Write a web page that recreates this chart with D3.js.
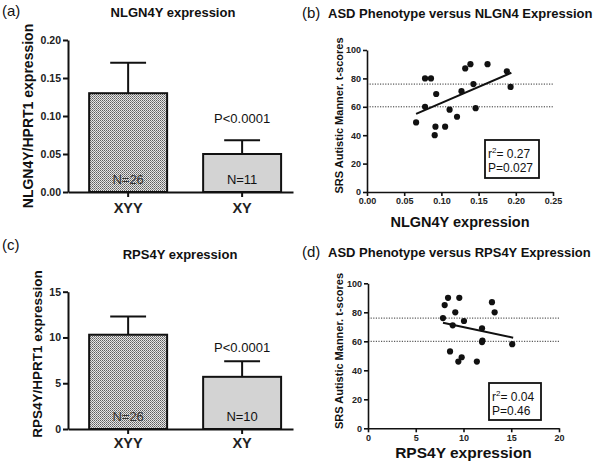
<!DOCTYPE html>
<html>
<head>
<meta charset="utf-8">
<script src="https://cdn.jsdelivr.net/npm/d3@7"></script>
<style>
  body { margin: 0; background: #fff; }
  svg { font-family: "Liberation Sans", Arial, Helvetica, sans-serif; }
</style>
</head>
<body>
<script>
// ---- data ----
const groups = ['XYY', 'XY'];

const nlgnMean = [0.13, 0.05];
const nlgnErr = [0.04, 0.018];
const nlgnN = ['N=26', 'N=11'];

const rpsMean = [10.3, 5.7];
const rpsErr = [2.0, 1.7];
const rpsN = ['N=26', 'N=10'];

const nlgnX = [0.066, 0.078, 0.086, 0.093, 0.078, 0.092, 0.105, 0.091, 0.111, 0.121, 0.127, 0.132, 0.139, 0.143, 0.146, 0.162, 0.188, 0.193];
const nlgnSrs = [49, 80, 80, 69, 60, 46, 46, 40, 58, 53, 71, 87, 90, 76, 59, 90, 85, 74];
const nlgnFit = [[0.066, 55], [0.194, 84]];

const rpsX = [7.85, 8.03, 8.38, 9.56, 9.14, 8.87, 10.05, 8.59, 9.81, 9.46, 11.4, 11.94, 11.94, 11.98, 12.98, 13.26, 15.1];
const rpsSrs = [76, 85, 90, 90, 80, 71, 74, 53, 49, 46, 46, 69, 59.5, 60.5, 87, 80, 58];
const rpsFit = [[7.85, 72.8], [15.2, 62.5]];

const cutoffs = [60, 76];

const W = 600, H = 465;
const svg = d3.select('body').append('svg')
  .attr('width', W)
  .attr('height', H);

const defs = svg.append('defs');
const pat = defs.append('pattern')
  .attr('id', 'dots')
  .attr('width', 2)
  .attr('height', 2)
  .attr('patternUnits', 'userSpaceOnUse');
pat.append('rect').attr('width', 2).attr('height', 2).attr('fill', '#e6e6e6');
pat.append('rect').attr('width', 1).attr('height', 1).attr('fill', '#5e5e5e');
pat.append('rect').attr('x', 1).attr('y', 1).attr('width', 1).attr('height', 1).attr('fill', '#858585');

function styleAxis(g, sw, fs) {
  g.select('.domain').attr('stroke', '#111').attr('stroke-width', sw);
  g.selectAll('.tick line').attr('stroke', '#111').attr('stroke-width', sw);
  g.selectAll('.tick text')
    .attr('fill', '#222')
    .style('font-size', fs + 'px')
    .style('font-weight', 'bold');
  g.attr('font-size', null).attr('font-family', null);
}

function label(x, y, txt, size, weight, anchor) {
  return svg.append('text')
    .attr('x', x)
    .attr('y', y)
    .attr('text-anchor', anchor || 'start')
    .style('font-size', size + 'px')
    .style('font-weight', weight || 'normal')
    .attr('fill', '#111')
    .text(txt);
}

function barPanel(o) {
  const x = d3.scaleBand().domain(groups).range([68, 293])
    .paddingInner(0.316).paddingOuter(0.145).align(0.64);
  const y = d3.scaleLinear().domain(o.yDomain).range([o.bottom, o.top]);

  label(2, o.letterY, o.letter, 15);
  label(o.titleX, o.titleY, o.title, 13, 'bold', 'middle');

  svg.append('text')
    .attr('transform', `translate(${o.ylabX},${o.ylabY}) rotate(-90)`)
    .attr('text-anchor', 'middle')
    .style('font-size', o.ylabSize + 'px')
    .style('font-weight', 'bold')
    .attr('fill', '#111')
    .text(o.ylab);

  const bars = svg.append('g');
  groups.forEach((gname, i) => {
    const cx = x(gname) + x.bandwidth() / 2;
    const capW = x.bandwidth() * 0.46;
    bars.append('line')
      .attr('x1', cx).attr('x2', cx)
      .attr('y1', y(o.means[i])).attr('y2', y(o.means[i] + o.errs[i]))
      .attr('stroke', '#111').attr('stroke-width', 2);
    bars.append('line')
      .attr('x1', cx - capW / 2).attr('x2', cx + capW / 2)
      .attr('y1', y(o.means[i] + o.errs[i])).attr('y2', y(o.means[i] + o.errs[i]))
      .attr('stroke', '#111').attr('stroke-width', 2);
    bars.append('rect')
      .attr('x', x(gname))
      .attr('y', y(o.means[i]))
      .attr('width', x.bandwidth())
      .attr('height', y(0) - y(o.means[i]))
      .attr('fill', i === 0 ? 'url(#dots)' : '#d3d3d3')
      .attr('stroke', '#111')
      .attr('stroke-width', 2);
    svg.append('text')
      .attr('x', cx)
      .attr('y', y(0) - 8)
      .attr('text-anchor', 'middle')
      .style('font-size', '13px')
      .attr('fill', i === 0 ? '#333' : '#111')
      .text(o.ns[i]);
  });

  const cxy = x('XY') + x.bandwidth() / 2;
  label(cxy, o.pY, 'P<0.0001', 13, 'normal', 'middle');

  const ya = svg.append('g')
    .attr('transform', 'translate(68,0)')
    .call(d3.axisLeft(y).tickValues(o.yTicks).tickFormat(o.fmt).tickSize(5).tickPadding(2).tickSizeOuter(0));
  styleAxis(ya, 2, 10.5);

  const xa = svg.append('g')
    .attr('transform', `translate(0,${o.bottom})`)
    .call(d3.axisBottom(x).tickSize(5).tickPadding(o.catPad).tickSizeOuter(0));
  styleAxis(xa, 2, 14.5);
}

function scatterPanel(o) {
  const x = d3.scaleLinear().domain(o.xDomain).range([o.left, o.right]);
  const y = d3.scaleLinear().domain([0, 100]).range([o.bottom, o.top]);

  label(302, o.titleY, o.letter, 15);
  label(328, o.titleY, o.title, 13, 'bold');

  svg.append('text')
    .attr('transform', `translate(343,${o.ylabY}) rotate(-90)`)
    .attr('text-anchor', 'middle')
    .style('font-size', '11px')
    .style('font-weight', 'bold')
    .attr('fill', '#111')
    .text('SRS Autistic Manner. t-scores');

  label((o.left + o.right) / 2, o.xlabY, o.xlab, o.xlabSize, 'bold', 'middle');

  svg.append('g').selectAll('line')
    .data(cutoffs)
    .join('line')
    .attr('x1', o.left).attr('x2', o.right)
    .attr('y1', d => y(d)).attr('y2', d => y(d))
    .attr('stroke', '#333')
    .attr('stroke-width', 1)
    .attr('stroke-dasharray', '1.2,1.4');

  svg.append('g').selectAll('circle')
    .data(o.xs)
    .join('circle')
    .attr('cx', d => x(d))
    .attr('cy', (d, i) => y(o.ys[i]))
    .attr('r', 3.1)
    .attr('fill', '#111');

  svg.append('line')
    .attr('x1', x(o.fit[0][0])).attr('y1', y(o.fit[0][1]))
    .attr('x2', x(o.fit[1][0])).attr('y2', y(o.fit[1][1]))
    .attr('stroke', '#111')
    .attr('stroke-width', 2);

  const b = o.box;
  svg.append('rect')
    .attr('x', b[0]).attr('y', b[1])
    .attr('width', b[2]).attr('height', b[3])
    .attr('fill', '#fff')
    .attr('stroke', '#111')
    .attr('stroke-width', 1.8);
  const t = svg.append('text')
    .attr('x', b[0] + 3)
    .attr('y', b[1] + 18)
    .style('font-size', '12px')
    .attr('fill', '#111');
  t.append('tspan').text('r');
  t.append('tspan').attr('dy', -5).style('font-size', '8px').text('2');
  t.append('tspan').attr('dy', 5).text('= ' + o.r2);
  label(b[0] + 3, b[1] + 32, 'P=' + o.p, 12);

  const ya = svg.append('g')
    .attr('transform', `translate(${o.left},0)`)
    .call(d3.axisLeft(y).ticks(5).tickSize(4).tickPadding(2).tickSizeOuter(0));
  styleAxis(ya, 1.6, 9);

  const xa = svg.append('g')
    .attr('transform', `translate(0,${o.bottom})`)
    .call(d3.axisBottom(x).tickValues(o.xTicks).tickFormat(o.fmt).tickSize(4).tickPadding(2).tickSizeOuter(0));
  styleAxis(xa, 1.6, 9);
}

barPanel({
  letter: '(a)', letterY: 16,
  title: 'NLGN4Y expression', titleX: 173, titleY: 17,
  ylab: 'NLGN4Y/HPRT1 expression', ylabX: 32.5, ylabY: 116, ylabSize: 14,
  yDomain: [0, 0.2], top: 40, bottom: 192,
  yTicks: [0, 0.05, 0.1, 0.15, 0.2], fmt: d3.format('.2f'),
  means: nlgnMean, errs: nlgnErr, ns: nlgnN,
  pY: 123, catPad: 6
});

barPanel({
  letter: '(c)', letterY: 250,
  title: 'RPS4Y expression', titleX: 180, titleY: 259,
  ylab: 'RPS4Y/HPRT1 expression', ylabX: 41.5, ylabY: 354, ylabSize: 13.5,
  yDomain: [0, 15], top: 291.7, bottom: 429,
  yTicks: [0, 5, 10, 15], fmt: d3.format('d'),
  means: rpsMean, errs: rpsErr, ns: rpsN,
  pY: 352, catPad: 4
});

scatterPanel({
  letter: '(b)', title: 'ASD Phenotype versus NLGN4 Expression', titleY: 18,
  ylabY: 115.5,
  xlab: 'NLGN4Y expression', xlabY: 226.5, xlabSize: 14.5,
  xDomain: [0, 0.25], left: 367, right: 553, top: 50, bottom: 192,
  xTicks: [0, 0.05, 0.1, 0.15, 0.2, 0.25], fmt: d3.format('.2f'),
  xs: nlgnX, ys: nlgnSrs, fit: nlgnFit,
  box: [485, 140, 54, 38], r2: '0.27', p: '0.027'
});

scatterPanel({
  letter: '(d)', title: 'ASD Phenotype versus RPS4Y Expression', titleY: 257,
  ylabY: 351,
  xlab: 'RPS4Y expression', xlabY: 457.5, xlabSize: 15.5,
  xDomain: [0, 20], left: 368, right: 559, top: 283.3, bottom: 428.3,
  xTicks: [0, 5, 10, 15, 20], fmt: d3.format('d'),
  xs: rpsX, ys: rpsSrs, fit: rpsFit,
  box: [489, 383, 52, 37], r2: '0.04', p: '0.46'
});
</script>
</body>
</html>
